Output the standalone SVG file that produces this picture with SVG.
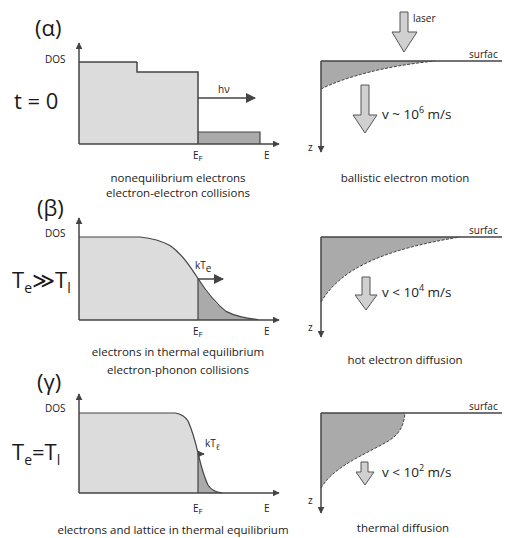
<svg xmlns="http://www.w3.org/2000/svg" width="508" height="538" viewBox="0 0 508 538">
<defs>
<marker id="ah" viewBox="0 0 10 10" refX="9" refY="5" markerWidth="7" markerHeight="7" orient="auto" markerUnits="userSpaceOnUse"><path d="M0,0 L10,5 L0,10 z" fill="#444"/></marker>
<marker id="ahb" viewBox="0 0 10 10" refX="9" refY="5" markerWidth="10" markerHeight="10" orient="auto" markerUnits="userSpaceOnUse"><path d="M0,0 L10,5 L0,10 z" fill="#444"/></marker>
</defs>
<style>
.ax{stroke:#444;stroke-width:1.5;fill:none}
.lt{fill:#dcdcdc;stroke:none}
.dk{fill:#aaaaaa;stroke:none}
.cv{fill:none;stroke:#444;stroke-width:1.2}
.ds{fill:none;stroke:#444;stroke-width:1;stroke-dasharray:3 1.5}
.ba{fill:#d0d0d0;stroke:#555;stroke-width:1}
.t{font-family:"Open Sans","Liberation Sans",sans-serif;fill:#222;font-size:10px}
.c{font-family:"Open Sans","Liberation Sans",sans-serif;fill:#222;font-size:11.5px;text-anchor:middle}
.v{font-family:"Open Sans","Liberation Sans",sans-serif;fill:#222;font-size:13.5px}
.big{font-family:"Open Sans","Liberation Sans",sans-serif;fill:#1a1a1a;font-size:22px}
</style>
<rect width="508" height="538" fill="#ffffff"/>

<!-- Panel alpha -->
<g id="alpha-dos">
<text class="big" x="35" y="36">(α)</text>
<text class="big" x="14" y="109" font-size="25">t = 0</text>
<text class="t" x="45" y="63" font-size="9">DOS</text>
<rect class="lt" x="79" y="62" width="58" height="82"/>
<rect class="lt" x="137" y="72" width="61" height="72"/>
<rect class="dk" x="198" y="132" width="62" height="12"/>
<path class="ax" d="M79,62 H137" stroke="#888"/>
<path class="ax" d="M137,62 V72 H198 V144" stroke-width="2"/>
<path class="cv" d="M198,132 H260 V144"/>
<path class="ax" d="M79,144 V43" marker-end="url(#ah)"/>
<path class="ax" d="M79,144 H279" marker-end="url(#ah)"/>
<path class="ax" d="M198,98 H255" marker-end="url(#ahb)"/>
<text class="t" x="218" y="93" font-size="11">hν</text>
<text class="t" x="193" y="159">E<tspan font-size="8" dy="2">F</tspan></text>
<text class="t" x="264" y="159">E</text>
<text class="c" x="178" y="182">nonequilibrium electrons</text>
<text class="c" x="178" y="197">electron-electron collisions</text>
</g>

<g id="alpha-space">
<path d="M321,61 V89 C345,77 385,66 435,61 Z" fill="#aaaaaa"/>
<path class="ds" d="M321,89 C345,77 385,66 435,61"/>
<path class="ax" d="M321,61 H502"/>
<path class="ax" d="M321,61 V152" marker-end="url(#ah)"/>
<polygon class="ba" fill="#e4e4e4" points="400,12 408,12 408,32 417,32 404,52 392,32 400,32"/>
<text class="t" x="413" y="22" font-size="9">laser</text>
<text class="t" x="469" y="58" font-size="11">surfac</text>
<polygon class="ba" points="361,85 369,85 369,115 377,115 365,133 353,115 361,115"/>
<text class="v" x="382" y="119">v ~ 10<tspan font-size="9" dy="-6">6</tspan><tspan dy="6"> m/s</tspan></text>
<text class="t" x="308" y="151">z</text>
<text class="c" x="405" y="182">ballistic electron motion</text>
</g>

<!-- Panel beta -->
<g id="beta-dos">
<text class="big" x="37" y="216" font-size="21">(β)</text>
<text class="big" x="12" y="288">T<tspan font-size="14" dy="5">e</tspan><tspan dy="-5">≫T</tspan><tspan font-size="14" dy="5">l</tspan></text>
<text class="t" x="45" y="237" font-size="9">DOS</text>
<path class="lt" d="M79,320 V237 H140 L150,239 L160,241.3 L170,245.6 L180,253.6 L190,266.1 L198,278.5 V320 Z"/>
<path class="dk" d="M198,320 V278.5 L206,290.9 L216,303.4 L226,311.4 L236,315.8 L246,318 L256,319 L260,320 Z"/>
<path class="cv" d="M79,237 H140 C150,238 160,240 170,245.6 C182,254 190,266 198,278.5 C206,291 214,302 226,311.4 C236,316.5 246,318.5 258,319.5"/>
<path class="cv" d="M198,278.5 V320"/>
<path class="ax" d="M79,320 V218" marker-end="url(#ah)"/>
<path class="ax" d="M79,320 H279" marker-end="url(#ah)"/>
<path class="ax" d="M198,279 H223" marker-end="url(#ahb)"/>
<text class="t" x="195" y="269" font-size="12">kT<tspan font-size="10" dy="3">e</tspan></text>
<text class="t" x="193" y="335">E<tspan font-size="8" dy="2">F</tspan></text>
<text class="t" x="264" y="335">E</text>
<text class="c" x="178" y="356">electrons in thermal equilibrium</text>
<text class="c" x="178" y="374">electron-phonon collisions</text>
</g>

<g id="beta-space">
<path d="M321,237 V302 C340,270 380,250 460,237 Z" fill="#aaaaaa"/>
<path class="ds" d="M321,302 C340,270 380,250 460,237"/>
<path class="ax" d="M321,237 H502"/>
<path class="ax" d="M321,237 V337" marker-end="url(#ah)"/>
<text class="t" x="469" y="234" font-size="11">surfac</text>
<polygon class="ba" points="362,277 370,277 370,295 377,295 366,310 355,295 362,295"/>
<text class="v" x="382" y="297">v &lt; 10<tspan font-size="9" dy="-6">4</tspan><tspan dy="6"> m/s</tspan></text>
<text class="t" x="308" y="331">z</text>
<text class="c" x="405" y="364">hot electron diffusion</text>
</g>

<!-- Panel gamma -->
<g id="gamma-dos">
<text class="big" x="37" y="390" font-size="21">(γ)</text>
<text class="big" x="12" y="460">T<tspan font-size="14" dy="5">e</tspan><tspan dy="-5">=T</tspan><tspan font-size="14" dy="5">l</tspan></text>
<text class="t" x="45" y="412" font-size="9">DOS</text>
<path class="lt" d="M79,493 V413 H175 L180,414.4 L185,417.2 L189,422.5 L192,429.7 L195,440.1 L198,453 V493 Z"/>
<path class="dk" d="M198,493 V453 L201,465.9 L204,476.3 L207,483.5 L211,488.8 L216,491.6 L222,493 Z"/>
<path class="cv" d="M79,413 H175 C181,414 185,416 188,421 C192,430 195,440 198,453 C201,466 204,477 208,485 C211,490 215,492 222,492.8"/>
<path class="cv" d="M198,453 V493"/>
<path class="ax" d="M79,493 V394" marker-end="url(#ah)"/>
<path class="ax" d="M79,493 H279" marker-end="url(#ah)"/>
<path class="ax" d="M198,454 H204" marker-end="url(#ah)"/>
<text class="t" x="205" y="447" font-size="11">kT<tspan font-size="8" dy="3">ℓ</tspan></text>
<text class="t" x="193" y="512">E<tspan font-size="8" dy="2">F</tspan></text>
<text class="t" x="264" y="512">E</text>
<text class="c" x="173" y="534">electrons and lattice in thermal equilibrium</text>
</g>

<g id="gamma-space">
<path d="M321,413 V488 C335,465 365,455 390,440 C402,432 404,422 405,413 Z" fill="#aaaaaa"/>
<path class="ds" d="M321,488 C335,465 365,455 390,440 C402,432 404,422 405,413"/>
<path class="ax" d="M321,413 H502"/>
<path class="ax" d="M321,413 V513" marker-end="url(#ah)"/>
<text class="t" x="469" y="410" font-size="11">surfac</text>
<polygon class="ba" points="361,462 368,462 368,472 374,472 365,485 356,472 361,472"/>
<text class="v" x="382" y="477">v &lt; 10<tspan font-size="9" dy="-6">2</tspan><tspan dy="6"> m/s</tspan></text>
<text class="t" x="308" y="504">z</text>
<text class="c" x="403" y="532">thermal diffusion</text>
</g>
</svg>
